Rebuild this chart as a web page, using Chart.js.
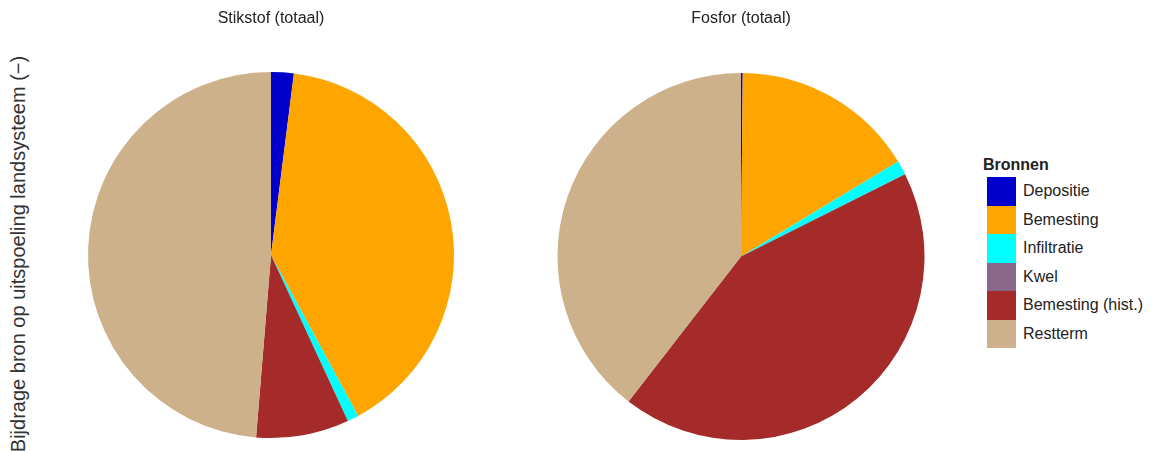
<!DOCTYPE html>
<html>
<head>
<meta charset="utf-8">
<script src="https://cdn.jsdelivr.net/npm/chart.js@4"></script>
<style>
  html, body { margin:0; padding:0; background:#fff; }
  body { width:1152px; height:451px; position:relative; overflow:hidden;
         font-family:"Liberation Sans", Arial, sans-serif; color:#222; }
  .pie { position:absolute; top:0; width:400px; height:451px; }
  #ylabel { position:absolute; left:18px; top:254px; white-space:nowrap;
            transform:translate(-50%,-50%) rotate(-90deg); font-size:20px; color:#333; }
  #legend { position:absolute; left:983px; top:154px; }
  #legend .ttl { font-weight:bold; font-size:16px; height:23px; line-height:22px; }
  #legend .row { height:28.5px; display:flex; align-items:center; font-size:16px; }
  #legend .box { width:29px; height:100%; margin-left:4px; margin-right:7px; }
</style>
</head>
<body>
<div id="ylabel">Bijdrage bron op uitspoeling landsysteem (−)</div>
<div class="pie" style="left:71px"><canvas id="pie-n"></canvas></div>
<div class="pie" style="left:541px"><canvas id="pie-p"></canvas></div>
<div id="legend"></div>

<script>
// Bronnen (volgorde zoals legenda)
const categories = ['Depositie', 'Bemesting', 'Infiltratie', 'Kwel', 'Bemesting (hist.)', 'Restterm'];
// aandeel per bron (%)
const stikstof = [2.0, 40.1, 1.0, 0, 8.2, 48.7];
const fosfor   = [0.15, 16.2, 1.25, 0, 42.9, 39.5];

const colors = ['#0000CD', '#FFA500', '#00FFFF', '#8B668B', '#A52A2A', '#CCB18A'];

function pie(id, title, values, padBottom, titleGap) {
  return new Chart(document.getElementById(id), {
    type: 'pie',
    data: { labels: categories,
      datasets: [{ data: values, backgroundColor: colors, borderWidth: 0, hoverOffset: 0 }] },
    options: {
      responsive: true, maintainAspectRatio: false, animation: false,
      layout: { padding: { bottom: padBottom } },
      plugins: {
        legend: { display: false }, tooltip: { enabled: false },
        title: { display: true, text: title, color: '#222',
          font: { family: '"Liberation Sans", Arial, sans-serif', size: 16, weight: 'normal' },
          padding: { top: 9, bottom: titleGap } },
      },
    },
  });
}

pie('pie-n', 'Stikstof (totaal)', stikstof, 13, 43.8);
pie('pie-p', 'Fosfor (totaal)',   fosfor,   11, 44.8);

// legenda
document.getElementById('legend').innerHTML =
  '<div class="ttl">Bronnen</div>' +
  categories.map((c, i) =>
    `<div class="row"><div class="box" style="background:${colors[i]}"></div>${c}</div>`
  ).join('');
</script>
</body>
</html>
